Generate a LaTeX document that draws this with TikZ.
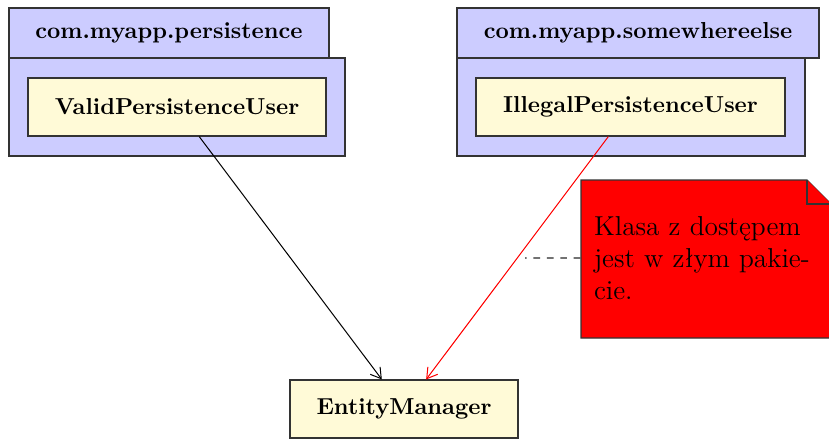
\documentclass[tikz,border=0pt]{standalone}
\usepackage{fontspec}
\usetikzlibrary{arrows.meta,calc}
\definecolor{pkgfill}{RGB}{204,204,255}
\definecolor{clsfill}{RGB}{255,250,215}
\def\u{0.446pt}
\begin{document}
\begin{tikzpicture}[x=\u,y=-\u, line width=0.5pt,
  pkgtab/.style={draw=black!80, fill=pkgfill, minimum height=50*\u, inner sep=0pt, font=\fontsize{10.3}{12}\selectfont\bfseries},
  pkgbody/.style={draw=black!80, fill=pkgfill, inner sep=0pt},
  cls/.style={draw=black!80, fill=clsfill, minimum height=58*\u, inner sep=0pt, font=\fontsize{10.3}{12}\selectfont\bfseries},
  dep/.style={-{Straight Barb[length=4.5pt,width=5.5pt]}, line width=0.45pt},
  notetext/.style={minimum width=250*\u, minimum height=158*\u, inner sep=0pt, text width=224*\u, align=left, font=\fontsize{12.2}{14.4}\selectfont},
]
\useasboundingbox (0,0) rectangle (829,438);
\clip (0,0) rectangle (829,438);
% package 1
\node[pkgtab, minimum width=320*\u] (tab1) at (169,33) {com.myapp.persistence};
\node[pkgbody, minimum width=336*\u, minimum height=98*\u] (body1) at (177,107) {};
\node[cls, minimum width=298*\u] (valid) at (177,107) {ValidPersistenceUser};
% package 2
\node[pkgtab, minimum width=362*\u] (tab2) at (638,33) {com.myapp.somewhereelse};
\node[pkgbody, minimum width=348*\u, minimum height=98*\u] (body2) at (631,107) {};
\node[cls, minimum width=309*\u] (illegal) at (630.5,107) {IllegalPersistenceUser};
% target
\node[cls, minimum width=228*\u] (em) at (404,409) {EntityManager};
% note
\draw[draw=black!80, fill=red] (581,180) -- (807,180) -- (831,204) -- (831,338) -- (581,338) -- cycle;
\draw[draw=black!80, fill=red] (807,180) -- (807,204) -- (831,204);
\node[notetext] (note) at (706,258) {\mbox{Klasa z dostępem}\\\mbox{jest w złym pakie-}\\\mbox{cie.}};
% connectors
\draw[dep] (valid) -- (em);
\draw[dep, red] (illegal) -- (em);
\draw[dashed, black!85, line width=0.5pt, shorten >=3.5pt] (note.west) -- ($(illegal)!0.5!(em)$);
\end{tikzpicture}
\end{document}
